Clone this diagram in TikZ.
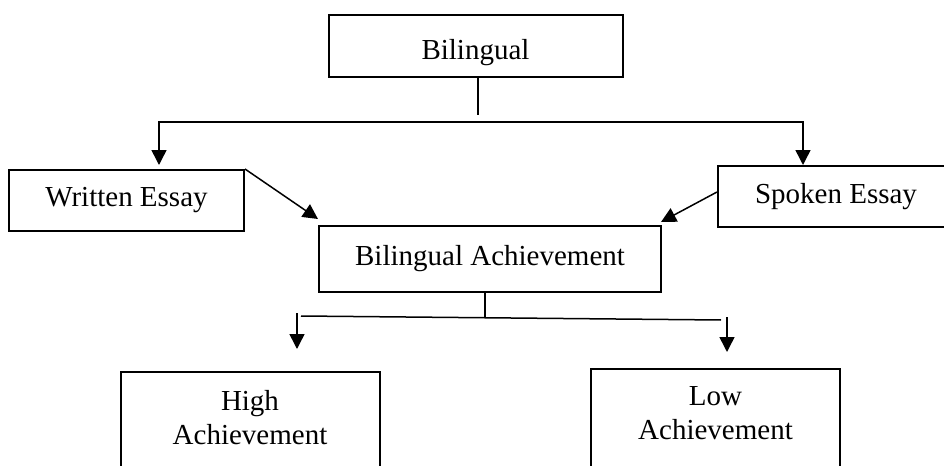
\documentclass[tikz,border=0pt]{standalone}
\usepackage{fontspec}
\setmainfont{Liberation Serif}
\usetikzlibrary{arrows.meta}

\begin{document}
\begin{tikzpicture}[x=0.5pt, y=-0.5pt,
		>={Triangle[width=7.5pt,length=7.5pt]},
		box/.style={draw, line width=1pt, font=\fontsize{14.5}{17}\selectfont},
		tallbox/.style={box, anchor=north, align=center, inner ysep=9pt, text depth=60pt},
		conn/.style={line width=0.75pt},
		arr/.style={conn, ->}]
		\useasboundingbox (0,0) rectangle (944,466);
		\clip (0,0) rectangle (944,466);

		\draw (475.5,46) node[box, minimum width=147pt, minimum height=31pt, text height=17pt] (bil) {Bilingual};
		\draw (126.5,200.5) node[box, minimum width=117.5pt, minimum height=30.5pt] (wr) {Written Essay};
		\draw (836,196.5) node[box, minimum width=118pt, minimum height=30.5pt] (sp) {Spoken Essay};
		\draw (490,259) node[box, minimum width=171pt, minimum height=33pt] (ba) {Bilingual Achievement};
		\draw (250,371) node[tallbox, minimum width=129.5pt] (hi) {High\\Achievement};
		\draw (715.5,368) node[tallbox, minimum width=124.5pt] (lo) {Low\\Achievement};

		% top fork
		\coordinate (hub) at (478,122);
		\coordinate (wIn) at (159,165);
		\coordinate (sIn) at (803,165);
		\draw[conn] (bil.south -| hub) -- ++(0,37);
		\draw[conn, <->] (wIn) |- (hub) -| (sIn);

		% into the achievement box
		\coordinate (baL) at (318,219);
		\coordinate (baR) at (661,222);
		\draw[arr] (wr.north east) -- (baL);
		\draw[arr] ([yshift=2.25pt]sp.west) -- (baR);

		% bottom fork
		\coordinate (fork) at (485,317);
		\coordinate (forkL) at (301,316);
		\coordinate (forkR) at (721,320);
		\coordinate (hiOut) at (297,313);
		\coordinate (hiIn) at (297,349);
		\coordinate (loOut) at (727,317);
		\coordinate (loIn) at (727,352);
		\draw[conn] (ba.south -| fork) -- (fork);
		\draw[conn] (forkL) -- (forkR);
		\draw[arr] (hiOut) -- (hiIn);
		\draw[arr] (loOut) -- (loIn);
	\end{tikzpicture}
\end{document}
